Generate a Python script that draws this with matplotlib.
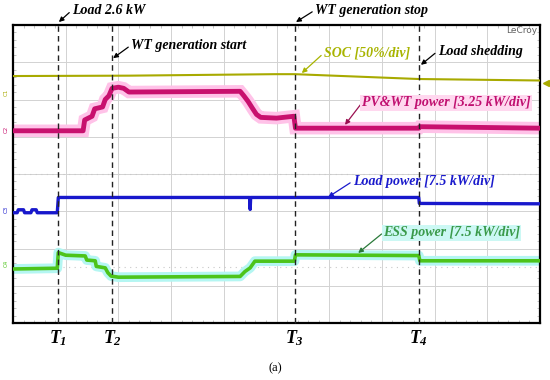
import matplotlib
matplotlib.use("Agg")
import matplotlib.pyplot as plt
from matplotlib.ticker import MultipleLocator

plt.rcParams['font.family'] = ['Liberation Serif', 'DejaVu Serif']
plt.rcParams['mathtext.fontset'] = 'custom'
plt.rcParams['mathtext.rm'] = 'Liberation Serif:bold:italic'
plt.rcParams['mathtext.it'] = 'Liberation Serif:bold:italic'

# ---- data, in scope divisions (10 x 8 grid) ----
soc_t = [0, 2.2, 4.97, 5.35, 7.70, 10]
soc_v = [6.63, 6.64, 6.68, 6.68, 6.55, 6.51]

pv_t = [0, 1.33, 1.36, 1.50, 1.55, 1.70, 1.75, 1.82, 1.88, 2.0, 2.1, 2.2,
        4.31, 4.38, 4.46, 4.55, 4.62, 4.70, 5.0, 5.33, 5.36, 7.70, 7.72, 10]
pv_v = [5.16, 5.16, 5.45, 5.55, 5.75, 5.80, 6.0, 6.1, 6.3, 6.33, 6.3, 6.2,
        6.22, 6.1, 5.95, 5.75, 5.6, 5.52, 5.5, 5.55, 5.23, 5.23, 5.27, 5.23]

load_t = [0, 0.08, 0.10, 0.20, 0.22, 0.34, 0.36, 0.44, 0.46, 0.84, 0.86,
          4.49, 4.50, 4.51, 7.70, 7.71, 10]
load_v = [2.96, 2.96, 3.04, 3.04, 2.96, 2.96, 3.04, 3.04, 2.96, 2.96, 3.37,
          3.37, 3.05, 3.37, 3.37, 3.21, 3.20]

ess_t = [0, 0.84, 0.86, 1.0, 1.37, 1.40, 1.56, 1.58, 1.75, 1.80, 1.86, 2.0,
         4.31, 4.40, 4.50, 4.59, 5.34, 5.36, 7.70, 7.72, 10]
ess_v = [1.45, 1.47, 1.89, 1.82, 1.80, 1.69, 1.67, 1.52, 1.48, 1.35, 1.26, 1.23,
         1.25, 1.38, 1.48, 1.66, 1.66, 1.83, 1.81, 1.67, 1.67]

events = [0.86, 1.88, 5.35, 7.70]
event_names = ['$T_1$', '$T_2$', '$T_3$', '$T_4$']

fig = plt.figure(figsize=(5.5, 3.8), dpi=100)
ax = fig.add_axes([13/550, 57/380, 527/550, 298/380])
ax.set_xlim(0, 10)
ax.set_ylim(0, 8)

# grid
for gx in range(1, 10):
    ax.axvline(gx, color='#d2d2d2', lw=0.7, zorder=0)
for gy in range(1, 8):
    ax.axhline(gy, color='#d2d2d2', lw=0.7, zorder=0)
ax.axhline(4, color='#c8c8c8', lw=0.8, ls=(0, (1, 4)), zorder=0)
ax.axhline(1.5, color='#c8c8c8', lw=0.8, ls=(0, (1, 4)), zorder=0)
ax.xaxis.set_major_locator(MultipleLocator(1))
ax.yaxis.set_major_locator(MultipleLocator(1))
ax.xaxis.set_minor_locator(MultipleLocator(0.2))
ax.yaxis.set_minor_locator(MultipleLocator(0.2))
ax.tick_params(which='both', direction='in', top=True, right=True,
               labelbottom=False, labelleft=False, color='#bbbbbb')
ax.tick_params(which='major', length=0)
ax.tick_params(which='minor', length=2)
for s in ax.spines.values():
    s.set_linewidth(1.6)
    s.set_color('black')

# traces with halo
ax.plot(pv_t, pv_v, color='#ffc2e8', lw=9, solid_joinstyle='miter', zorder=2)
ax.plot(pv_t, pv_v, color='#c8106e', lw=3.5, zorder=3)
ax.plot(ess_t, ess_v, color='#b4f6f2', lw=7, zorder=2)
ax.plot(ess_t, ess_v, color='#4cc41a', lw=2.6, zorder=3)
ax.plot(load_t, load_v, color='#1818cc', lw=2.4, zorder=3)
ax.plot(soc_t, soc_v, color='#a8aa00', lw=1.5, zorder=3)

# event markers
for i, t in enumerate(events):
    top = 8.08 if i in (0, 2) else 8.0
    ax.plot([t, t], [0, top], color='#222222', lw=1.0, ls=(0, (4, 3)),
            zorder=4, clip_on=False)
    ax.text(t, -0.42, event_names[i], ha='center', va='center',
            fontsize=13, color='black')

bi = dict(fontweight='bold', fontstyle='italic', fontsize=10)

def note(txt, xy, xytext, color, arrow_color=None, box=None):
    ax.annotate(txt, xy=xy, xytext=xytext, color=color, ha='left', va='center',
                annotation_clip=False, zorder=6, bbox=box,
                arrowprops=dict(arrowstyle='-|>', color=arrow_color or color,
                                lw=0.9, mutation_scale=7, shrinkA=0, shrinkB=0,
                                relpos=(0, 0.5)), **bi)

note('Load 2.6 kW', (0.87, 8.08), (1.12, 8.40), 'black')
note('WT generation start', (1.90, 7.11), (2.24, 7.46), 'black')
note('WT generation stop', (5.37, 8.08), (5.73, 8.40), 'black')
note('SOC [50%/div]', (5.48, 6.71), (5.90, 7.25), '#a8b400')
note('Load shedding', (7.74, 6.93), (8.06, 7.30), 'black')
note('PV&WT power [3.25 kW/div]', (6.30, 5.32), (6.62, 5.91), '#c01070',
     arrow_color='#9a1050',
     box=dict(boxstyle='square,pad=0.1', fc='#ffd8ef', ec='none'))
note('Load power [7.5 kW/div]', (5.98, 3.38), (6.45, 3.81), '#1a1acc')
note('ESS power [7.5 kW/div]', (6.55, 1.88), (7.02, 2.42), '#3a9a4a',
     arrow_color='#2a7a3a',
     box=dict(boxstyle='square,pad=0.1', fc='#ccf8f4', ec='none'))

ax.text(9.95, 7.84, 'LeCroy', ha='right', va='center', fontsize=6.5,
        color='#606060', family='DejaVu Sans')

# channel tags on the left
chan_y = [6.2, 5.2, 3.05, 1.6]
chan_c = ['#a8aa00', '#c8106e', '#1818cc', '#4cc41a']
for k in range(4):
    ax.text(-0.12, chan_y[k], 'C%d' % (k + 1), rotation=90, ha='center',
            va='center', fontsize=4, color=chan_c[k], family='DejaVu Sans',
            clip_on=False)
ax.plot([10.12], [6.44], marker='<', color='#a8aa00', ms=4, clip_on=False)

fig.text(0.5, 1 - 368/380, '(a)', ha='center', va='center', fontsize=9,
         family='Liberation Serif')

fig.savefig('out.png', dpi=100)
